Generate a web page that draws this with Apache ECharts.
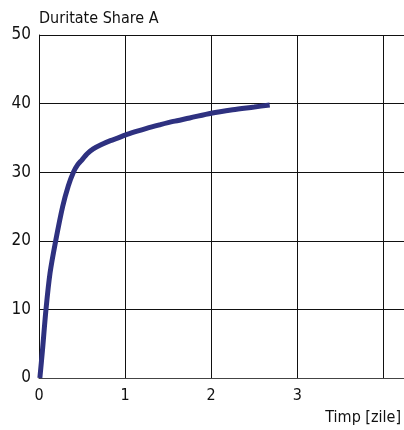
<!DOCTYPE html>
<html>
<head>
<meta charset="utf-8">
<script src="https://cdn.jsdelivr.net/npm/echarts@6/dist/echarts.min.js"></script>
<style>
  html, body { margin: 0; padding: 0; background: #fff; }
  #main { width: 404px; height: 430px; }
</style>
</head>
<body>
<div id="main"></div>
<script>
// time in days and hardness (Shore A)
var timeDays = [0.01, 0.04, 0.081, 0.128, 0.194, 0.275, 0.34, 0.40, 0.45, 0.50, 0.56, 0.63, 0.72, 0.83, 0.92, 1.0, 1.12, 1.25, 1.4, 1.56, 1.75, 2.0, 2.25, 2.5, 2.68];
var hardness = [0, 4, 10, 15.3, 20, 25, 28, 30, 31.1, 31.8, 32.7, 33.4, 34.0, 34.6, 35.0, 35.4, 35.9, 36.4, 36.9, 37.4, 37.9, 38.6, 39.1, 39.5, 39.8];
var xTickLabels = ['0', '1', '2', '3'];

var font = '"Liberation Sans Narrow", "DejaVu Sans Condensed", sans-serif';

var chart = echarts.init(document.getElementById('main'));

var option = {
  animation: false,
  grid: {
    left: 39,
    right: 0,
    top: 35,
    bottom: 52
  },
  xAxis: {
    type: 'value',
    min: 0,
    max: 4.24,
    interval: 1,
    name: 'Timp [zile]',
    nameLocation: 'end',
    nameGap: -3,
    nameTextStyle: {
      color: '#111',
      fontFamily: font,
      fontSize: 16,
      align: 'right',
      verticalAlign: 'top',
      padding: [32, 0, 0, 0]
    },
    axisLine: { show: true, lineStyle: { color: '#444', width: 1 } },
    axisTick: { show: false },
    axisLabel: {
      color: '#111',
      fontFamily: font,
      fontSize: 16,
      margin: 10,
      showMaxLabel: false,
      formatter: function (v) {
        return xTickLabels.indexOf(String(v)) >= 0 ? String(v) : '';
      }
    },
    splitLine: { show: true, lineStyle: { color: '#111', width: 1 } }
  },
  yAxis: {
    type: 'value',
    min: 0,
    max: 50,
    interval: 10,
    name: 'Duritate Share A',
    nameLocation: 'end',
    nameGap: 8,
    nameTextStyle: {
      color: '#111',
      fontFamily: font,
      fontSize: 16,
      align: 'left',
      padding: [0, 0, 0, 0]
    },
    axisLine: { show: true, lineStyle: { color: '#111', width: 1 } },
    axisTick: { show: false },
    axisLabel: {
      color: '#111',
      fontFamily: font,
      fontSize: 17,
      margin: 8
    },
    splitLine: { show: true, lineStyle: { color: '#111', width: 1 } }
  },
  series: [{
    type: 'line',
    data: timeDays.map(function (t, i) { return [t, hardness[i]]; }),
    smooth: 0.3,
    symbol: 'none',
    lineStyle: { color: '#2e3180', width: 5 }
  }]
};

chart.setOption(option);
</script>
</body>
</html>
